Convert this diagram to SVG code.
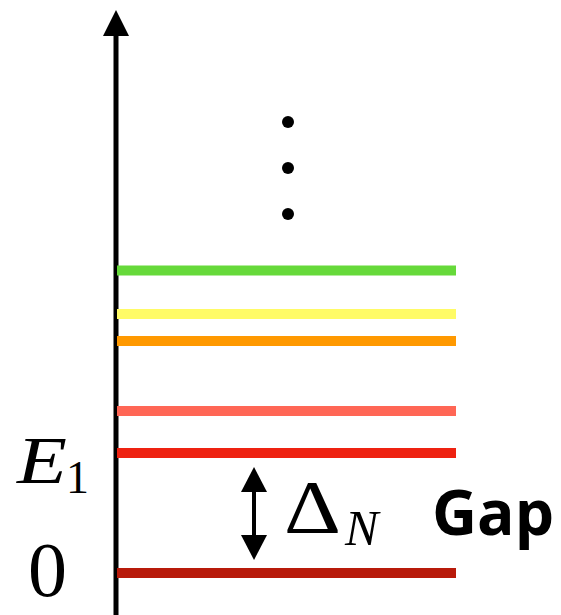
<svg xmlns="http://www.w3.org/2000/svg" width="561" height="615" viewBox="0 0 561 615">
<style>
.lvl{stroke-width:10;fill:none}
.ax{stroke:#000;stroke-width:5;fill:none}
.math{font-family:"Liberation Serif","DejaVu Serif",serif;fill:#000}
.gap{font-family:"Open Sans","Liberation Sans",sans-serif;font-weight:bold;fill:#000}
</style>
<g id="axis">
<line class="ax" x1="116" y1="615" x2="116" y2="34"/>
<path d="M116,10 L129,36 L103,36 Z" fill="#000"/>
</g>
<g id="levels">
<line class="lvl" x1="117" y1="270.5" x2="456" y2="270.5" stroke="#66d93a"/>
<line class="lvl" x1="117" y1="314" x2="456" y2="314" stroke="#fffb66"/>
<line class="lvl" x1="117" y1="341" x2="456" y2="341" stroke="#ff9900"/>
<line class="lvl" x1="117" y1="411" x2="456" y2="411" stroke="#ff6655"/>
<line class="lvl" x1="117" y1="453" x2="456" y2="453" stroke="#ee2211"/>
<line class="lvl" x1="117" y1="573" x2="456" y2="573" stroke="#b81a0a"/>
</g>
<g id="dots" fill="#000">
<circle cx="288" cy="122" r="6"/>
<circle cx="288" cy="168" r="6"/>
<circle cx="288" cy="214" r="6"/>
</g>
<g id="connectors">
<line x1="254" y1="490" x2="254" y2="537" stroke="#000" stroke-width="4"/>
<path d="M254,467 L267,492 L241,492 Z" fill="#000"/>
<path d="M254,560 L267,535 L241,535 Z" fill="#000"/>
</g>
<g id="labels">
<text class="math" x="17" y="483" font-size="68" font-style="italic" textLength="50" lengthAdjust="spacingAndGlyphs">E</text>
<text class="math" x="66" y="493" font-size="46">1</text>
<text class="math" x="28" y="596" font-size="78">0</text>
<text class="math" x="284" y="533" font-size="76" textLength="57" lengthAdjust="spacingAndGlyphs">Δ</text>
<text class="math" x="345" y="545" font-size="50" font-style="italic">N</text>
<text class="gap" x="432" y="535" font-size="62" textLength="122" lengthAdjust="spacingAndGlyphs">Gap</text>
</g>
</svg>
